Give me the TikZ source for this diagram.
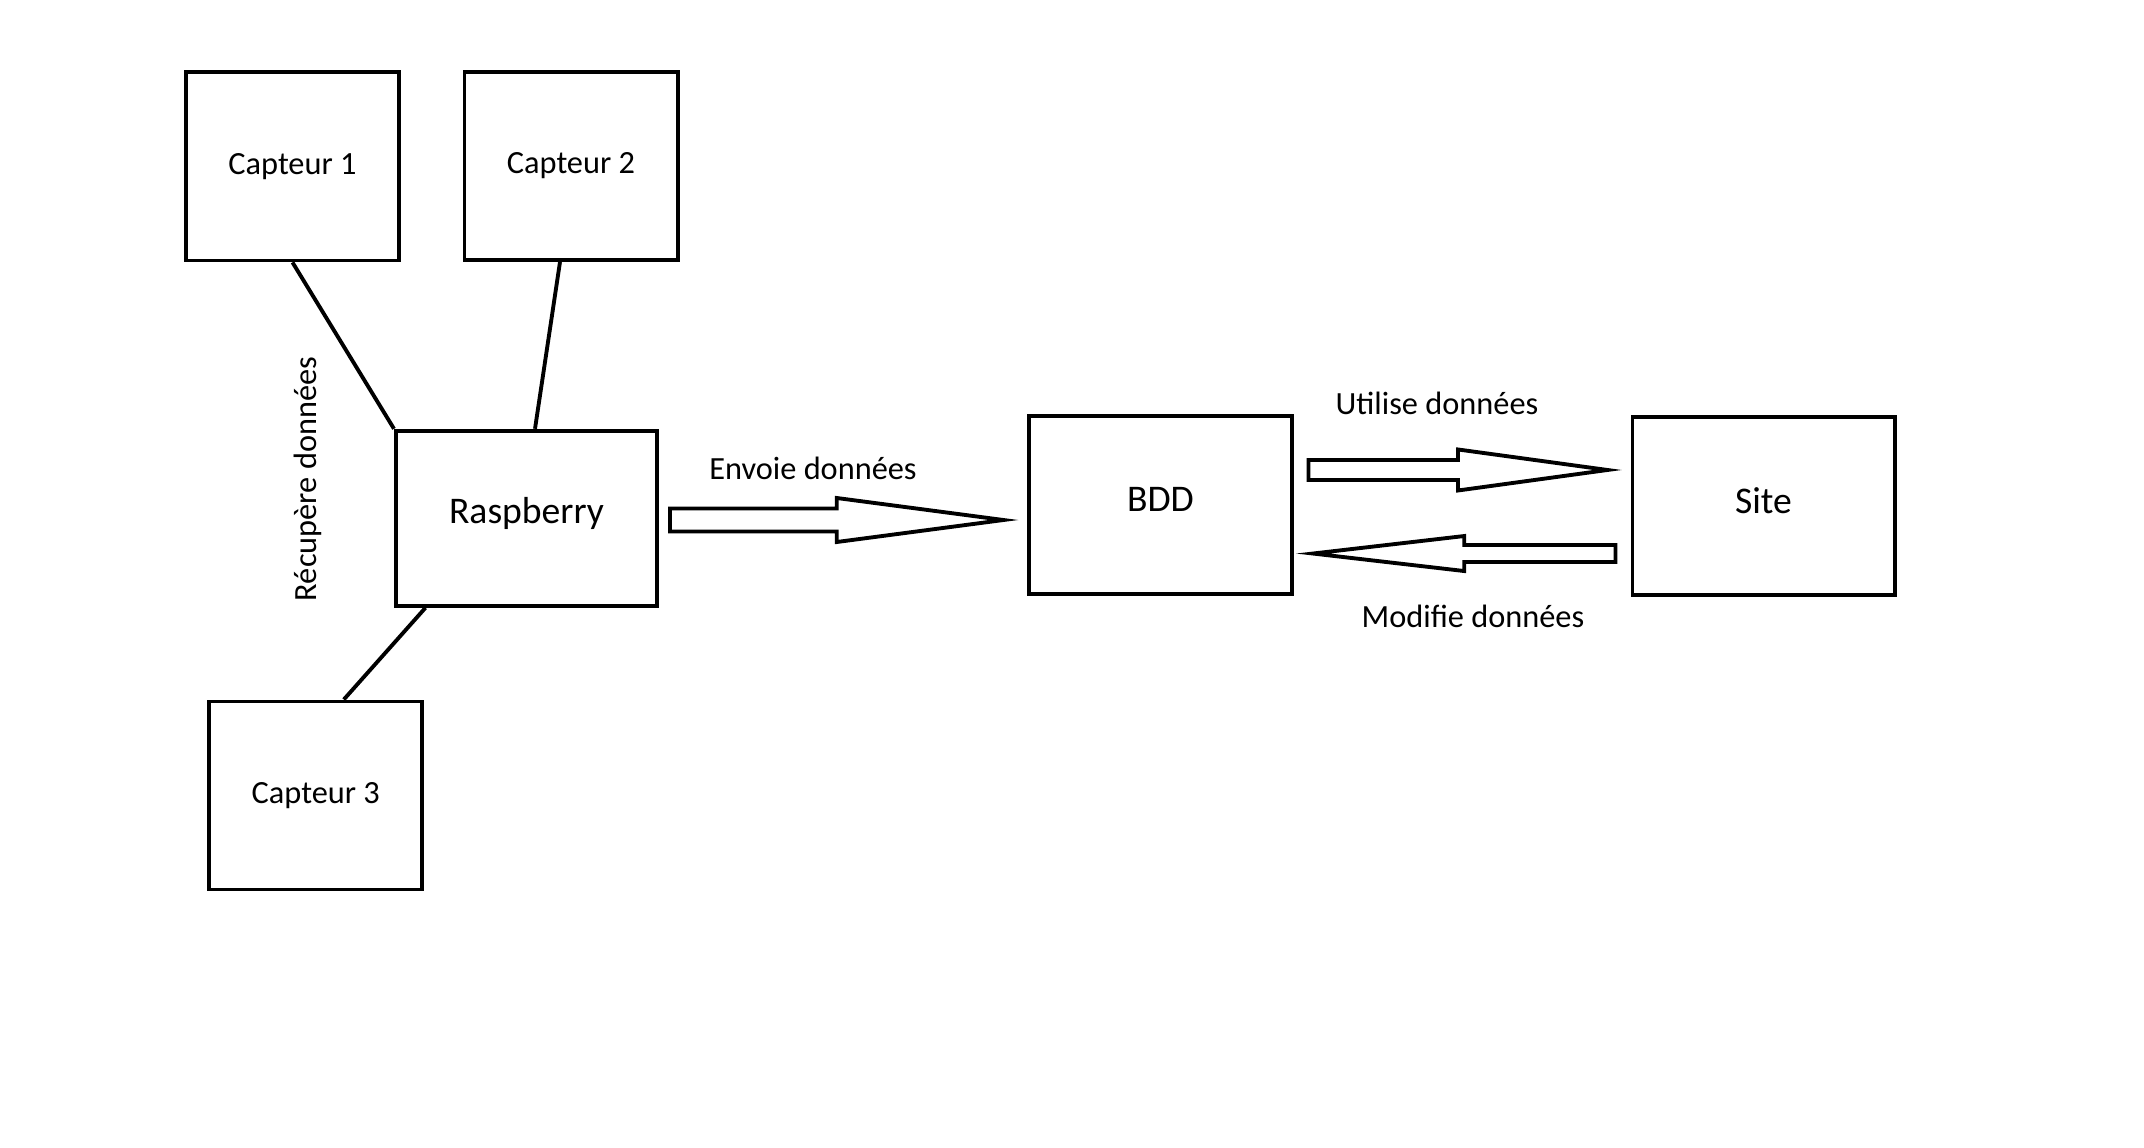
\documentclass[tikz,border=0pt]{standalone}
\usepackage{fontspec}
\setmainfont{Carlito}
\usetikzlibrary{calc}

\begin{document}
\begin{tikzpicture}[x=0.01cm, y=-0.01cm,
    capteur/.style={draw, line width=1.1pt, inner sep=0pt, minimum width=2.13cm, minimum height=1.88cm, font=\fontsize{9.2}{11}\selectfont},
    bloc/.style={draw, line width=1.1pt, inner sep=0pt, text depth=0.3em, minimum width=2.62cm, minimum height=1.78cm, font=\fontsize{10.7}{13}\selectfont},
    legende/.style={anchor=base, font=\fontsize{9.2}{11}\selectfont},
    lien/.style={line width=1.1pt},
    fleche/.style 2 args={draw, line width=1.1pt, to path={let \p1=(\tikztostart), \p2=(\tikztotarget) in
        (\x1,\y1+#1) -- ({(\x1+\x2)/2},\y1+#1) -- ({(\x1+\x2)/2},\y1+#2) -- (\x2,\y1)
        -- ({(\x1+\x2)/2},\y1-#2) -- ({(\x1+\x2)/2},\y1-#1) -- (\x1,\y1-#1) -- cycle}}
]
\useasboundingbox (0,0) rectangle (2144,1148);

% Capteurs
\node[capteur] (cap1) at (292.5,166.4) {Capteur 1};
\node[capteur] (cap2) at (571,166) {Capteur 2};
\node[capteur] (cap3) at (315.8,795.5) {Capteur 3};

% Raspberry
\node[bloc, minimum width=2.61cm, minimum height=1.75cm, text depth=0.45em] (rasp) at (526.5,518.3) {Raspberry};

% BDD et site
\node[bloc] (bdd) at (1160.5,504.8) {BDD};
\node[bloc] (site) at (1763.5,506) {Site};

% Liens capteurs
\draw[lien] (cap1.south) -- (rasp.north west);
\draw[lien] ([xshift=-0.11cm]cap2.south) -- ([xshift=0.085cm]rasp.north);
\draw[lien] ([xshift=-1.01cm]rasp.south) -- ([xshift=0.28cm]cap3.north);
\node[legende, rotate=90] (recup) at (316,479) {Récupère données};

% Fleches
\draw[fleche={0.115cm}{0.22cm}] ([xshift=0.11cm,yshift=-0.017cm]rasp.east) to ([xshift=-0.24cm]bdd.west);
\node[legende] (envoie) at (813,479) {Envoie données};

\draw[fleche={0.1cm}{0.205cm}] ([xshift=0.15cm,yshift=0.348cm]bdd.east) to ([xshift=-0.23cm]site.west);
\node[legende] (utilise) at (1437,414) {Utilise données};

\draw[fleche={0.085cm}{0.175cm}] ([xshift=-0.15cm,yshift=-0.475cm]site.west) to ([xshift=0.195cm]bdd.east);
\node[legende] (modifie) at (1473,627) {Modifie données};

\end{tikzpicture}
\end{document}
